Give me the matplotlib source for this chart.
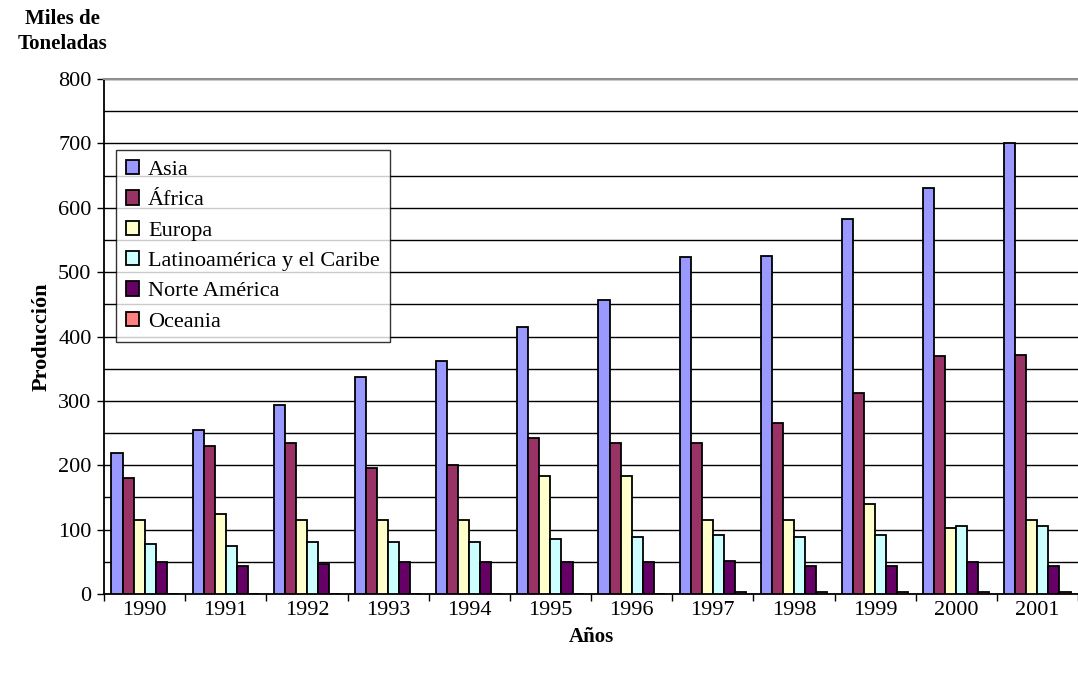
import matplotlib.pyplot as plt
import numpy as np
from matplotlib.ticker import MultipleLocator, FixedLocator

plt.rcParams['font.family'] = ['Liberation Serif', 'DejaVu Serif']

years = ['1990', '1991', '1992', '1993', '1994', '1995',
         '1996', '1997', '1998', '1999', '2000', '2001']
series = ['Asia', 'África', 'Europa', 'Latinoamérica y el Caribe',
          'Norte América', 'Oceania']

asia = [219, 255, 294, 337, 362, 415, 457, 523, 525, 582, 631, 700]
africa = [180, 230, 235, 196, 200, 243, 235, 235, 265, 313, 369, 372]
europa = [115, 124, 115, 115, 115, 184, 184, 115, 115, 140, 102, 115]
latam = [77, 75, 81, 81, 81, 85, 88, 91, 88, 91, 106, 106]
norte = [49, 44, 47, 49, 49, 49, 49, 52, 44, 44, 49, 44]
oceania = [0, 0, 0, 0, 0, 0, 0, 2.5, 2.5, 2.5, 2.5, 2.5]

colors = ['#9999FF', '#993366', '#FFFFCC', '#CCFFFF', '#660066', '#FF8080']

fig = plt.figure(figsize=(10.78, 6.77), dpi=100)
ax = fig.add_axes([0.0965, 0.1226, 0.9035, 0.7607])

x = np.arange(len(years))
w = 0.136
data = [asia, africa, europa, latam, norte, oceania]
for i, (vals, name, c) in enumerate(zip(data, series, colors)):
    ax.bar(x + (i - 2.5) * w, vals, w, color=c, edgecolor='black',
           linewidth=1.3, label=name, zorder=3)

ax.set_xlim(-0.5, len(years) - 0.5)
ax.set_ylim(0, 800)

# gridlines every 50, labelled ticks every 100
ax.yaxis.set_major_locator(MultipleLocator(100))
ax.yaxis.set_minor_locator(MultipleLocator(50))
ax.grid(axis='y', which='both', color='black', linewidth=1, zorder=0)
ax.tick_params(axis='y', which='major', length=5, width=1, labelsize=16, pad=4)
ax.tick_params(axis='y', which='minor', length=0)

ax.set_xticks(x)
ax.set_xticklabels(years)
ax.xaxis.set_minor_locator(FixedLocator(np.arange(-0.5, len(years), 1)))
ax.tick_params(axis='x', which='major', length=0, labelsize=16, pad=5)
ax.tick_params(axis='x', which='minor', length=5, width=1)

ax.spines['right'].set_visible(False)
ax.spines['top'].set_color('#909090')
ax.spines['top'].set_linewidth(1.5)
ax.spines['left'].set_linewidth(1.3)
ax.spines['bottom'].set_linewidth(1.3)

ax.set_ylabel('Producción', fontsize=16, fontweight='bold', labelpad=5)
ax.set_xlabel('Años', fontsize=15, fontweight='bold', labelpad=5)
fig.text(0.058, 0.92, 'Miles de\nToneladas', fontsize=15, fontweight='bold',
         ha='center', va='bottom', linespacing=1.35)

leg = ax.legend(loc='upper left', bbox_to_anchor=(0.0123, 0.862), fontsize=16,
                frameon=True, fancybox=False, borderpad=0.45, labelspacing=0.47,
                handlelength=0.6, handleheight=0.6, handletextpad=0.4,
                borderaxespad=0)
leg.get_frame().set_edgecolor('black')
leg.get_frame().set_linewidth(1)
leg.set_zorder(5)

fig.savefig('out.png', dpi=100)
